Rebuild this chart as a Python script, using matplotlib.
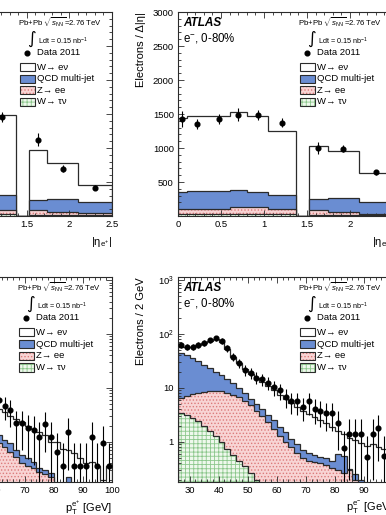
import numpy as np
import matplotlib.pyplot as plt
from matplotlib.patches import Rectangle
from matplotlib.ticker import MultipleLocator, FixedLocator, FuncFormatter, LogLocator, NullFormatter

plt.rcParams['font.family'] = ['Liberation Sans', 'DejaVu Sans']
plt.rcParams['mathtext.fontset'] = 'custom'
plt.rcParams['mathtext.rm'] = 'Liberation Sans'
plt.rcParams['mathtext.it'] = 'Liberation Sans:italic'
plt.rcParams['mathtext.bf'] = 'Liberation Sans:bold'
plt.rcParams['hatch.linewidth'] = 0.6

# ---------------- eta distributions ----------------
eta_edges = [0, 0.1, 0.35, 0.6, 0.8, 1.05, 1.37, 1.52, 1.74, 2.1, 2.5]
eta_centres = [0.05, 0.225, 0.475, 0.7, 0.925, 1.21, 1.63, 1.92, 2.3]

# e+ (left panel), crack bin 1.37-1.52 is empty
eta_data_ep = [1560, 1500, 1580, 1620, 1600, 1455, 1123, 697, 418]
eta_err_ep = [125, 78, 78, 98, 78, 68, 95, 55, 40]
eta_tot_ep = [1550, 1560, 1580, 1600, 1560, 1480, 0, 966, 780, 451]
eta_qcd_ep = [330, 340, 360, 330, 310, 304, 0, 241, 256, 206]
eta_zee_ep = [105, 105, 110, 110, 100, 94, 0, 84, 64, 44]
eta_tau_ep = [28, 28, 28, 28, 26, 24, 0, 20, 18, 14]

# e- (right panel)
eta_data_em = [1422, 1348, 1420, 1490, 1490, 1370, 1000, 990, 640]
eta_err_em = [118, 73, 73, 92, 73, 65, 88, 55, 40]
eta_tot_em = [1435, 1465, 1465, 1530, 1465, 1250, 0, 1030, 955, 632]
eta_qcd_em = [353, 363, 363, 388, 348, 304, 0, 246, 265, 206]
eta_zee_em = [108, 108, 108, 132, 128, 98, 0, 84, 64, 35]
eta_tau_em = [28, 28, 28, 30, 30, 25, 0, 20, 16, 12]

# ---------------- pT distributions (2 GeV bins) ----------------
pt_edges = np.arange(26, 101, 2)
pt_centres = np.arange(27, 100, 2)

pt_data_ep = [70, 68, 66, 70, 78, 88, 95, 90, 68, 48, 35, 26, 20, 15, 12, 9.5, 7.5,
              6.0, 4.7, 3.9, 2.2, 2.2, 1.84, 1.67, 1.25, 2.1, 1.25, 0.66, 0.35, 1.55,
              0.35, 0.35, 0.35, 1.25, 0.35, 0.97, 0.35]
pt_err_ep = [8.5, 8.5, 8, 8.5, 9, 9.5, 10, 9.5, 8, 7, 6, 5, 4.5, 3.9, 3.5, 3.1, 2.8,
             2.4, 2.2, 2.0, 1.5, 1.5, 1.35, 1.3, 1.1, 1.45, 1.1, 0.8, 0.6, 1.25,
             0.6, 0.6, 0.6, 1.1, 0.6, 1.0, 0.6]
pt_tot_ep = [64, 63, 64, 68, 75, 83, 88, 78, 58, 42, 32, 25, 20, 16, 13, 10, 7.5,
             4.0, 3.6, 3.0, 2.6, 2.3, 2.0, 1.7, 1.5, 1.35, 1.0, 1.0, 0.75, 0.7,
             0.62, 0.5, 0.4, 0.42, 0.35, 0.2, 0.35]
pt_qcd_ep = [40, 36, 32, 28, 24, 21, 18, 15, 13, 11, 9, 7, 5.5, 4.2, 3.2, 2.4, 1.8,
             1.35, 1.1, 0.95, 0.71, 0.57, 0.5, 0.43, 0.33, 0.3, 0.26, 0.15, 0.12, 0.22,
             0.1, 0.1, 0.1, 0.1, 0.1, 0.1, 0.1]
pt_zee_ep = [6.0, 6.5, 7.0, 7.4, 7.7, 7.9, 8.0, 7.8, 7.4, 6.8, 6.0, 5.0, 4.0, 3.2, 2.4, 1.8, 1.3,
             0.96, 0.8, 0.66, 0.53, 0.41, 0.36, 0.33, 0.28, 0.25, 0.22, 0.15, 0.1, 0.1,
             0.1, 0.1, 0.1, 0.1, 0.1, 0.1, 0.1]
pt_tau_ep = [3.0, 2.8, 2.5, 2.1, 1.8, 1.5, 1.2, 0.9, 0.7, 0.5, 0.4, 0.3, 0.22, 0.17, 0.13, 0.1, 0.1,
             0.1, 0.1, 0.1, 0.1, 0.1, 0.1, 0.1, 0.1, 0.1, 0.1, 0.1, 0.1, 0.1,
             0.1, 0.1, 0.1, 0.1, 0.1, 0.1, 0.1]

pt_data_em = [62, 58, 57, 62, 69, 77, 83, 74, 54, 38, 28.6, 21.5, 18.7, 15.5, 14.5, 12.6, 10.4,
              9.0, 6.9, 5.75, 5.6, 4.5, 5.6, 4.1, 3.8, 3.4, 3.4, 2.2, 0.76, 1.4,
              1.4, 1.4, 0.53, 1.4, 1.8, 0.55, np.nan]
pt_err_em = [8, 7.6, 7.5, 8, 8.3, 8.8, 9.1, 8.6, 7.3, 6.2, 5.3, 4.6, 4.3, 3.9, 3.8, 3.5, 3.2,
             3.0, 2.6, 2.4, 2.4, 2.1, 2.4, 2.0, 1.9, 1.8, 1.8, 1.5, 0.85, 1.2,
             1.2, 1.2, 0.75, 1.2, 1.35, 0.75, 0]
pt_tot_em = [58, 57, 58, 62, 68, 75, 80, 70, 52, 38, 29, 22, 18, 15, 13, 11, 9,
             7.5, 6.2, 5.2, 4.4, 3.8, 3.3, 2.9, 2.5, 2.2, 1.9, 1.6, 1.4, 1.2,
             1.1, 0.95, 0.85, 0.9, 0.8, 0.75, 0.7]
pt_qcd_em = [44, 40, 36, 31, 27, 23, 20, 17, 14.5, 12.5, 10, 8, 6.3, 5, 4, 3.2, 2.5,
             1.9, 1.5, 1.15, 0.9, 0.72, 0.62, 0.56, 0.52, 0.5, 0.45, 0.6, 0.55, 0.32,
             0.25, 0.2, 0.15, 0.12, 0.1, 0.1, 0.1]
pt_zee_em = [6.6, 7.2, 7.8, 8.2, 8.5, 8.7, 8.8, 8.6, 8.2, 7.5, 6.8, 5.8, 4.8, 3.8, 3.0, 2.3, 1.7,
             1.3, 1.0, 0.8, 0.62, 0.5, 0.45, 0.42, 0.4, 0.37, 0.33, 0.3, 0.26, 0.3,
             0.2, 0.15, 0.12, 0.1, 0.1, 0.1, 0.1]
pt_tau_em = [3.4, 3.1, 2.8, 2.4, 2.0, 1.6, 1.3, 1.0, 0.75, 0.57, 0.45, 0.35, 0.26, 0.2, 0.15, 0.1, 0.1,
             0.1, 0.1, 0.1, 0.1, 0.1, 0.1, 0.1, 0.1, 0.1, 0.1, 0.1, 0.1, 0.1,
             0.1, 0.1, 0.1, 0.1, 0.1, 0.1, 0.1]

qcd_col = '#6a8dd2'
line_col = '#2b2b2b'

W, H = 386, 515
fig = plt.figure(figsize=(W / 100, H / 100), dpi=100)


def px_axes(l, t, r, b):
    return fig.add_axes([l / W, 1 - b / H, (r - l) / W, (b - t) / H])


def draw_stack(ax, edges, tot, qcd, zee, tau, base):
    ax.stairs(tot, edges, baseline=base, fill=True, facecolor='white', edgecolor='none')
    ax.stairs(tot, edges, baseline=base, color=line_col, lw=0.9)
    ax.stairs(qcd, edges, baseline=base, fill=True, facecolor=qcd_col, edgecolor='none')
    ax.stairs(qcd, edges, baseline=base, color=line_col, lw=0.9)
    ax.stairs(zee, edges, baseline=base, fill=True, facecolor='#f8d4d4', edgecolor='#dc7b7b',
              hatch='.....', lw=0)
    ax.stairs(zee, edges, baseline=base, color=line_col, lw=0.9)
    ax.stairs(tau, edges, baseline=base, fill=True, facecolor='#eef8ec', edgecolor='#8cc78c',
              hatch='++++', lw=0)
    ax.stairs(tau, edges, baseline=base, color=line_col, lw=0.9)


def draw_data(ax, x, y, err, log=False):
    y = np.asarray(y, dtype=float)
    err = np.asarray(err, dtype=float)
    lo = err.copy()
    if log:
        lo = np.minimum(err, y - 1e-3)
    ax.errorbar(x, y, yerr=[lo, err], fmt='o', color='k', ms=3.4, elinewidth=0.8,
                capsize=0, zorder=5)


def draw_legend(ax):
    tr = ax.transAxes
    ax.text(0.558, 0.951, r'Pb+Pb $\sqrt{s_{\mathrm{NN}}}$=2.76 TeV', transform=tr,
            fontsize=5.6, va='center', ha='left')
    ax.text(0.600, 0.870, '\u222b', transform=tr, fontsize=12, va='center', ha='left',
            family='DejaVu Sans')
    ax.text(0.651, 0.858, r'Ldt = 0.15 nb$^{-1}$', transform=tr, fontsize=5.2,
            va='center', ha='left')
    ax.plot([0.600], [0.800], 'o', color='k', ms=3.4, transform=tr, clip_on=False)
    ax.text(0.647, 0.800, 'Data 2011', transform=tr, fontsize=6.8, va='center', ha='left')
    entries = [
        ('W\u2192 e\u03bd', dict(facecolor='white')),
        ('QCD multi-jet', dict(facecolor=qcd_col)),
        ('Z\u2192 ee', dict(facecolor='#f8d4d4', hatch='.....')),
        ('W\u2192 \u03c4\u03bd', dict(facecolor='#eef8ec', hatch='++++')),
    ]
    hatch_cols = ['none', 'none', '#dc7b7b', '#8cc78c']
    for i, (lab, st) in enumerate(entries):
        yc = 0.730 - i * 0.057
        if hatch_cols[i] != 'none':
            ax.add_patch(Rectangle((0.567, yc - 0.020), 0.070, 0.040, transform=tr,
                                   edgecolor=hatch_cols[i], lw=0, clip_on=False, **st))
        else:
            ax.add_patch(Rectangle((0.567, yc - 0.020), 0.070, 0.040, transform=tr,
                                   edgecolor='none', clip_on=False, **st))
        ax.add_patch(Rectangle((0.567, yc - 0.020), 0.070, 0.040, transform=tr,
                               facecolor='none', edgecolor=line_col, lw=0.8, clip_on=False))
        ax.text(0.647, yc, lab, transform=tr, fontsize=6.8, va='center', ha='left')


def style_axes(ax):
    for s in ax.spines.values():
        s.set_linewidth(0.8)
        s.set_color(line_col)
    ax.tick_params(which='both', direction='in', top=True, right=True, labelsize=6.8,
                   width=0.6, color=line_col, pad=3)
    ax.tick_params(which='major', length=4.5)
    ax.tick_params(which='minor', length=2.2)


def atlas_label(ax, charge):
    ax.text(0.023, 0.946, 'ATLAS', transform=ax.transAxes, fontsize=8.5, fontweight='bold',
            fontstyle='italic', va='center', ha='left')
    ax.text(0.023, 0.873, 'e$^{' + charge + '}$, 0-80%', transform=ax.transAxes,
            fontsize=8.3, va='center', ha='left')


gfmt = FuncFormatter(lambda v, p: '%g' % v)

# ---- top: eta panels ----
for (l, r), data, err, tot, qcd, zee, tau, ch in [
        ((-101, 112), eta_data_ep, eta_err_ep, eta_tot_ep, eta_qcd_ep, eta_zee_ep, eta_tau_ep, '+'),
        ((178, 393), eta_data_em, eta_err_em, eta_tot_em, eta_qcd_em, eta_zee_em, eta_tau_em, '-')]:
    ax = px_axes(l, 12, r, 216)
    draw_stack(ax, eta_edges, tot, qcd, zee, tau, 0)
    draw_data(ax, eta_centres, data, err)
    ax.set_xlim(0, 2.5)
    ax.set_ylim(0, 3000)
    ax.yaxis.set_major_locator(FixedLocator([500, 1000, 1500, 2000, 2500, 3000]))
    ax.yaxis.set_minor_locator(MultipleLocator(100))
    ax.xaxis.set_major_locator(MultipleLocator(0.5))
    ax.xaxis.set_minor_locator(MultipleLocator(0.1))
    ax.xaxis.set_major_formatter(gfmt)
    style_axes(ax)
    ax.set_xlabel('|\u03b7$_{\\mathrm{e}^{' + ch + '}}$|', loc='right', fontsize=8)
    ax.xaxis.set_label_coords(1.0, -0.095)
    ax.set_ylabel('Electrons / \u0394|\u03b7|', loc='top', fontsize=8)
    ax.yaxis.set_label_coords(-0.150, 1.0)
    draw_legend(ax)
    atlas_label(ax, ch)

# ---- bottom: pT panels ----
logfmt = FuncFormatter(lambda v, p: {1: '1', 10: '10', 100: '$10^{2}$', 1000: '$10^{3}$'}.get(int(round(v)), ''))
for (l, r), data, err, tot, qcd, zee, tau, ch in [
        ((-103, 112), pt_data_ep, pt_err_ep, pt_tot_ep, pt_qcd_ep, pt_zee_ep, pt_tau_ep, '+'),
        ((178, 393), pt_data_em, pt_err_em, pt_tot_em, pt_qcd_em, pt_zee_em, pt_tau_em, '-')]:
    ax = px_axes(l, 277, r, 482)
    ax.set_yscale('log')
    draw_stack(ax, pt_edges, tot, qcd, zee, tau, 1e-3)
    draw_data(ax, pt_centres, data, err, log=True)
    ax.set_xlim(26, 100)
    ax.set_ylim(0.18, 1140)
    ax.yaxis.set_major_locator(FixedLocator([1, 10, 100, 1000]))
    ax.yaxis.set_major_formatter(logfmt)
    ax.yaxis.set_minor_locator(LogLocator(base=10, subs=np.arange(2, 10)))
    ax.yaxis.set_minor_formatter(NullFormatter())
    ax.xaxis.set_major_locator(MultipleLocator(10))
    ax.xaxis.set_minor_locator(MultipleLocator(2))
    style_axes(ax)
    ax.set_xlabel('p$_{\\mathrm{T}}^{\\mathrm{e}^{' + ch + '}}$ [GeV]', loc='right', fontsize=8)
    ax.xaxis.set_label_coords(1.0, -0.085)
    ax.set_ylabel('Electrons / 2 GeV', loc='top', fontsize=8)
    ax.yaxis.set_label_coords(-0.150, 1.0)
    draw_legend(ax)
    atlas_label(ax, ch)

fig.savefig('out.png', dpi=100)
